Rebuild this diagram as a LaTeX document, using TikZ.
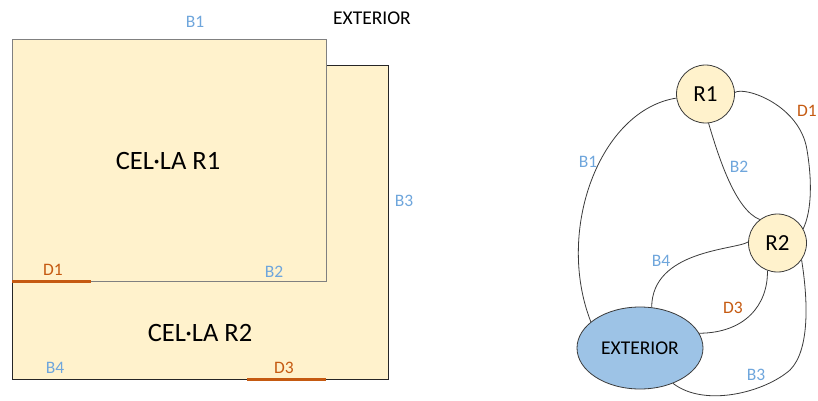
\documentclass[tikz,border=0pt]{standalone}
\usepackage{fontspec}
\setmainfont{Carlito}
\usetikzlibrary{shapes.geometric}
\definecolor{cellfill}{HTML}{FFF2CC}
\definecolor{extfill}{HTML}{9DC3E6}
\definecolor{lblblue}{HTML}{6FA6DC}
\definecolor{doororange}{HTML}{C55A11}
\definecolor{edgegray}{HTML}{3A3A3A}
\begin{document}
\begin{tikzpicture}[x=1pt,y=1pt,
  bnd/.style={text=lblblue,font=\fontsize{17.5}{20}\selectfont,inner sep=0pt},
  door/.style={text=doororange,font=\fontsize{17.5}{20}\selectfont,inner sep=0pt},
  celltxt/.style={font=\fontsize{26.5}{30}\selectfont,inner sep=0pt},
  doorline/.style={draw=doororange,line width=3pt},
  room/.style={circle,draw=edgegray,fill=cellfill,line width=0.8pt,minimum size=58pt,inner sep=0pt,font=\fontsize{23}{26}\selectfont},
  link/.style={draw=edgegray,line width=0.8pt}]
\useasboundingbox (0,0) rectangle (818,400);

% ---- floor plan ----
\path[fill=cellfill,draw=black!85,line width=0.9pt] (12,21) rectangle (388,335);
\path[fill=cellfill,draw=black!50,line width=0.9pt] (12,119) rectangle (326,361);
\coordinate (d1a) at (12,119);  \coordinate (d1b) at (91,119);
\coordinate (d3a) at (247,21);  \coordinate (d3b) at (326,21);
\draw[doorline] (d1a) -- (d1b);
\draw[doorline] (d3a) -- (d3b);

\node[celltxt] (c1) at (168,239) {CEL·LA R1};
\node[celltxt] (c2) at (200,67) {CEL·LA R2};
\node[font=\fontsize{19.5}{23}\selectfont,inner sep=0pt] (ext) at (372,382) {EXTERIOR};
\node[bnd] (pb1) at (195,378) {B1};
\node[bnd] (pb2) at (274,128) {B2};
\node[bnd] (pb3) at (404,199) {B3};
\node[bnd] (pb4) at (55,32) {B4};
\node[door] (pd1) at (53,130) {D1};
\node[door] (pd3) at (284,32) {D3};

% ---- adjacency graph ----
\node[room] (R1) at (705.5,306) {R1};
\node[room] (R2) at (777.5,157) {R2};
\node[ellipse,draw=edgegray,fill=extfill,line width=0.8pt,minimum width=126pt,minimum height=82pt,inner sep=0pt,
      font=\fontsize{19.5}{23}\selectfont] (E) at (640,52) {EXTERIOR};

% B1: R1 -- exterior
\draw[link] (R1.188) .. controls (600,290) and (555,170) .. (E.152);
% B2: R1 -- R2
\draw[link] (R1.276) .. controls (718,245) and (735,190) .. (R2.127);
% D1: R1 -- R2
\coordinate (d1m) at (807,250);
\draw[link] (R1.3) .. controls (745,314) and (800,295) .. (d1m)
            .. controls (812,220) and (812,190) .. (R2.29);
% B4: R2 -- exterior
\draw[link] (R2.178) .. controls (735,150) and (652,150) .. (E.74);
% D3: R2 -- exterior
\draw[link] (R2.250) .. controls (768,95) and (745,67) .. (E.14);
% B3: R2 -- exterior
\coordinate (b3m) at (790,30);
\draw[link] (R2.325) .. controls (808,100) and (810,50) .. (b3m)
            .. controls (765,8) and (705,-8) .. (E.313);

\node[bnd] (gb1) at (588,238) {B1};
\node[bnd] (gb2) at (739,233) {B2};
\node[bnd] (gb3) at (756,25) {B3};
\node[bnd] (gb4) at (661,139) {B4};
\node[door,anchor=east] (gd1) at (817,289) {D1};
\node[door] (gd3) at (733,92) {D3};
\end{tikzpicture}
\end{document}
